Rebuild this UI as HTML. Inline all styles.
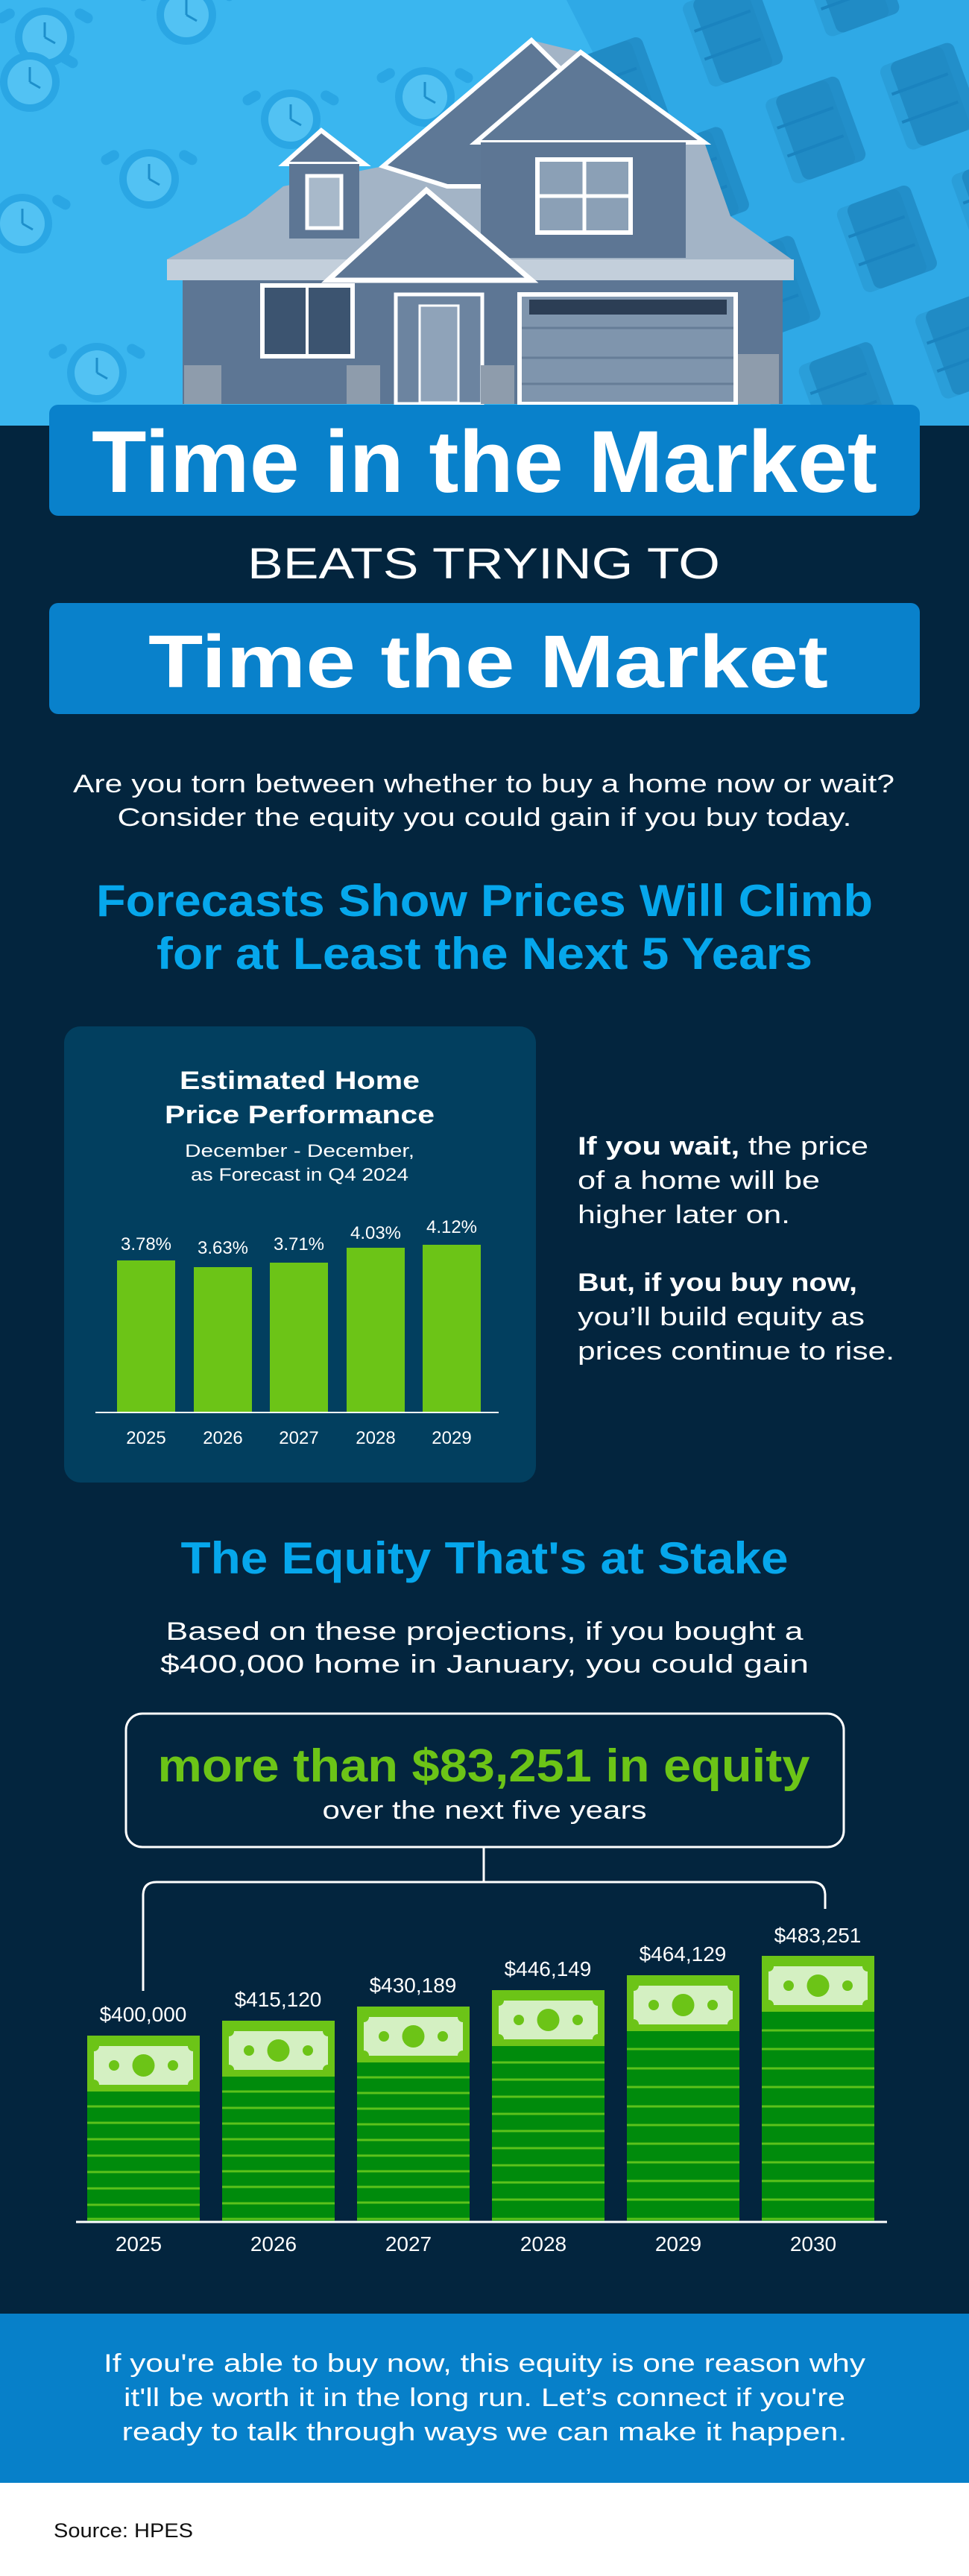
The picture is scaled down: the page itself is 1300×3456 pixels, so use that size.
<!DOCTYPE html>
<html><head><meta charset="utf-8"><style>
html,body{margin:0;padding:0;background:#fff}
svg{display:block}
text{font-family:"Liberation Sans",sans-serif}
</style></head><body>
<svg width="1300" height="3456" viewBox="0 0 1300 3456" xmlns="http://www.w3.org/2000/svg">
<defs>
<g id="clock"><circle cx="0" cy="0" r="40" fill="#2aa6e4"/><circle cx="0" cy="0" r="30" fill="#52c2f3"/><rect x="-44" y="-58" width="26" height="14" rx="7" fill="#2aa6e4" transform="rotate(-30)"/><rect x="18" y="-58" width="26" height="14" rx="7" fill="#2aa6e4" transform="rotate(30)"/><line x1="0" y1="0" x2="0" y2="-20" stroke="#1d8fcb" stroke-width="3"/><line x1="0" y1="0" x2="14" y2="8" stroke="#1d8fcb" stroke-width="3"/></g>
<g id="roll"><rect x="-45" y="-60" width="90" height="120" rx="10" fill="#2a9ed9"/><rect x="-30" y="-60" width="90" height="120" rx="10" fill="#1a7fb8" opacity="0.6"/><line x1="-40" y1="-20" x2="40" y2="-20" stroke="#1a83bf" stroke-width="4"/><line x1="-40" y1="20" x2="40" y2="20" stroke="#1a83bf" stroke-width="4"/></g>
<g id="bill"><rect x="0" y="0" width="133" height="52" fill="#d4f0c2"/><circle cx="0" cy="0" r="7" fill="#6cc417"/><circle cx="133" cy="0" r="7" fill="#6cc417"/><circle cx="0" cy="52" r="7" fill="#6cc417"/><circle cx="133" cy="52" r="7" fill="#6cc417"/><circle cx="66.5" cy="26" r="15" fill="#6cc417"/><circle cx="27" cy="26" r="7" fill="#6cc417"/><circle cx="106" cy="26" r="7" fill="#6cc417"/></g>
</defs>

<!-- hero -->
<rect x="0" y="0" width="1300" height="575" fill="#3ab6ef"/>
<polygon points="760,0 1300,0 1300,575 1050,575" fill="#2fa9e6"/>
<use href="#clock" x="60" y="50"/><use href="#clock" x="250" y="20"/><use href="#clock" x="390" y="160"/><use href="#clock" x="200" y="240"/><use href="#clock" x="30" y="300"/><use href="#clock" x="130" y="500"/><use href="#clock" x="570" y="130"/><use href="#clock" x="40" y="110"/>
<g transform="rotate(-20 1100 300)">
<use href="#roll" x="900" y="40"/><use href="#roll" x="1070" y="20"/><use href="#roll" x="1240" y="10"/><use href="#roll" x="960" y="190"/><use href="#roll" x="1130" y="180"/><use href="#roll" x="1290" y="190"/><use href="#roll" x="1000" y="360"/><use href="#roll" x="1170" y="350"/><use href="#roll" x="1330" y="360"/><use href="#roll" x="1050" y="530"/><use href="#roll" x="1220" y="520"/>
</g>
<!-- house -->
<polygon points="224,348 330,290 380,250 514,223 713,54 779,70 945,191 980,290 1065,350 1065,376 224,376" fill="#a3b4c6"/>
<polygon points="514,223 713,54 790,130 790,250 600,250" fill="#5e7896" stroke="#fff" stroke-width="6"/>
<polygon points="638,191 779,70 945,191" fill="#5e7896" stroke="#fff" stroke-width="6"/>
<rect x="645" y="191" width="275" height="155" fill="#5d7694"/>
<rect x="721" y="214" width="125" height="98" fill="#8ba0b6" stroke="#fff" stroke-width="6"/>
<line x1="784" y1="214" x2="784" y2="312" stroke="#fff" stroke-width="5"/><line x1="721" y1="263" x2="846" y2="263" stroke="#fff" stroke-width="5"/>
<polygon points="381,220 431,175 489,220" fill="#5d7694" stroke="#fff" stroke-width="6"/>
<rect x="388" y="220" width="94" height="100" fill="#5d7694"/>
<rect x="412" y="236" width="46" height="70" fill="#a8b9ca" stroke="#fff" stroke-width="5"/>
<rect x="224" y="348" width="841" height="28" fill="#c3cfdb"/>
<rect x="245" y="376" width="805" height="166" fill="#5d7694"/>
<polygon points="440,376 572,255 713,376" fill="#5d7694" stroke="#fff" stroke-width="7"/>
<rect x="352" y="383" width="121" height="95" fill="#3c5470" stroke="#fff" stroke-width="6"/>
<line x1="412" y1="383" x2="412" y2="478" stroke="#fff" stroke-width="4"/>
<rect x="531" y="395" width="116" height="147" fill="#6c84a0" stroke="#fff" stroke-width="5"/>
<rect x="563" y="410" width="52" height="130" fill="#8fa3b9" stroke="#fff" stroke-width="3"/>
<rect x="697" y="395" width="290" height="147" fill="#7f95ad" stroke="#fff" stroke-width="6"/>
<g stroke="#667d97" stroke-width="3"><line x1="700" y1="440" x2="984" y2="440"/><line x1="700" y1="480" x2="984" y2="480"/><line x1="700" y1="515" x2="984" y2="515"/></g>
<rect x="710" y="402" width="265" height="20" fill="#2c3e55"/>
<rect x="247" y="490" width="50" height="52" fill="#8e9cac"/>
<rect x="465" y="490" width="45" height="52" fill="#8e9cac"/>
<rect x="645" y="490" width="45" height="52" fill="#8e9cac"/>
<rect x="990" y="475" width="55" height="67" fill="#8e9cac"/>

<!-- dark background -->
<rect x="0" y="571" width="1300" height="2535" fill="#03253e"/>

<!-- title boxes -->
<rect x="66" y="543" width="1168" height="149" rx="12" fill="#0981cb"/>
<text x="650" y="660" text-anchor="middle" font-size="118" font-weight="bold" fill="#fff" textLength="1054" lengthAdjust="spacingAndGlyphs">Time in the Market</text>
<text x="649" y="776" text-anchor="middle" font-size="58" fill="#fff" textLength="634" lengthAdjust="spacingAndGlyphs">BEATS TRYING TO</text>
<rect x="66" y="809" width="1168" height="149" rx="12" fill="#0981cb"/>
<text x="655" y="922" text-anchor="middle" font-size="100" font-weight="bold" fill="#fff" textLength="912" lengthAdjust="spacingAndGlyphs">Time the Market</text>

<!-- intro -->
<text x="649" y="1063" text-anchor="middle" font-size="34" fill="#fff" textLength="1102" lengthAdjust="spacingAndGlyphs">Are you torn between whether to buy a home now or wait?</text>
<text x="650" y="1108" text-anchor="middle" font-size="34" fill="#fff" textLength="985" lengthAdjust="spacingAndGlyphs">Consider the equity you could gain if you buy today.</text>
<text x="650" y="1229" text-anchor="middle" font-size="60" font-weight="bold" fill="#06a7ec" textLength="1042" lengthAdjust="spacingAndGlyphs">Forecasts Show Prices Will Climb</text>
<text x="650" y="1300" text-anchor="middle" font-size="60" font-weight="bold" fill="#06a7ec" textLength="880" lengthAdjust="spacingAndGlyphs">for at Least the Next 5 Years</text>

<!-- chart card -->
<rect x="86" y="1377" width="633" height="612" rx="22" fill="#023f5f"/>
<text x="402" y="1461" text-anchor="middle" font-size="34" font-weight="bold" fill="#fff" textLength="322" lengthAdjust="spacingAndGlyphs">Estimated Home</text>
<text x="402" y="1507" text-anchor="middle" font-size="34" font-weight="bold" fill="#fff" textLength="362" lengthAdjust="spacingAndGlyphs">Price Performance</text>
<text x="402" y="1552" text-anchor="middle" font-size="24" fill="#fff" textLength="308" lengthAdjust="spacingAndGlyphs">December - December,</text>
<text x="402" y="1584" text-anchor="middle" font-size="24" fill="#fff" textLength="292" lengthAdjust="spacingAndGlyphs">as Forecast in Q4 2024</text>
<g fill="#6cc417">
<rect x="157" y="1691" width="78" height="204"/>
<rect x="260" y="1700" width="78" height="195"/>
<rect x="362" y="1694" width="78" height="201"/>
<rect x="465" y="1674" width="78" height="221"/>
<rect x="567" y="1670" width="78" height="225"/>
</g>
<line x1="128" y1="1895" x2="669" y2="1895" stroke="#fff" stroke-width="2"/>
<g font-size="24" fill="#fff" text-anchor="middle">
<text x="196" y="1677">3.78%</text><text x="299" y="1682">3.63%</text><text x="401" y="1677">3.71%</text><text x="504" y="1662">4.03%</text><text x="606" y="1654">4.12%</text>
<text x="196" y="1937">2025</text><text x="299" y="1937">2026</text><text x="401" y="1937">2027</text><text x="504" y="1937">2028</text><text x="606" y="1937">2029</text>
</g>

<!-- right text -->
<g font-size="34" fill="#fff">
<text x="775" y="1549" textLength="390" lengthAdjust="spacingAndGlyphs"><tspan font-weight="bold">If you wait,</tspan> the price</text>
<text x="775" y="1595" textLength="325" lengthAdjust="spacingAndGlyphs">of a home will be</text>
<text x="775" y="1641" textLength="285" lengthAdjust="spacingAndGlyphs">higher later on.</text>
<text x="775" y="1732" textLength="375" lengthAdjust="spacingAndGlyphs" font-weight="bold">But, if you buy now,</text>
<text x="775" y="1778" textLength="385" lengthAdjust="spacingAndGlyphs">you’ll build equity as</text>
<text x="775" y="1824" textLength="425" lengthAdjust="spacingAndGlyphs">prices continue to rise.</text>
</g>

<!-- equity section -->
<text x="650" y="2111" text-anchor="middle" font-size="60" font-weight="bold" fill="#06a7ec" textLength="815" lengthAdjust="spacingAndGlyphs">The Equity That's at Stake</text>
<text x="650" y="2200" text-anchor="middle" font-size="34" fill="#fff" textLength="855" lengthAdjust="spacingAndGlyphs">Based on these projections, if you bought a</text>
<text x="650" y="2244" text-anchor="middle" font-size="34" fill="#fff" textLength="870" lengthAdjust="spacingAndGlyphs">$400,000 home in January, you could gain</text>
<rect x="169" y="2299" width="963" height="179" rx="22" fill="none" stroke="#fff" stroke-width="3"/>
<text x="649" y="2390" text-anchor="middle" font-size="62" font-weight="bold" fill="#6cc417" textLength="875" lengthAdjust="spacingAndGlyphs">more than $83,251 in equity</text>
<text x="650" y="2440" text-anchor="middle" font-size="34" fill="#fff" textLength="435" lengthAdjust="spacingAndGlyphs">over the next five years</text>
<path d="M649 2478 V2525 M192 2671 V2543 Q192 2525 210 2525 H1089 Q1107 2525 1107 2543 V2561" fill="none" stroke="#fff" stroke-width="3"/>

<!-- money bars -->
<g transform="translate(117,0)"><rect y="2731" width="151" height="250" fill="#008b0c"/><rect y="2731" width="151" height="75" fill="#6cc417"/><use href="#bill" x="9" y="2745"/></g>
<g transform="translate(298,0)"><rect y="2711" width="151" height="270" fill="#008b0c"/><rect y="2711" width="151" height="75" fill="#6cc417"/><use href="#bill" x="9" y="2725"/></g>
<g transform="translate(479,0)"><rect y="2692" width="151" height="289" fill="#008b0c"/><rect y="2692" width="151" height="75" fill="#6cc417"/><use href="#bill" x="9" y="2706"/></g>
<g transform="translate(660,0)"><rect y="2670" width="151" height="311" fill="#008b0c"/><rect y="2670" width="151" height="75" fill="#6cc417"/><use href="#bill" x="9" y="2684"/></g>
<g transform="translate(841,0)"><rect y="2650" width="151" height="331" fill="#008b0c"/><rect y="2650" width="151" height="75" fill="#6cc417"/><use href="#bill" x="9" y="2664"/></g>
<g transform="translate(1022,0)"><rect y="2624" width="151" height="357" fill="#008b0c"/><rect y="2624" width="151" height="75" fill="#6cc417"/><use href="#bill" x="9" y="2638"/></g>
<g stroke="#5cc21b" stroke-width="3">
<path d="M117 2826H268M117 2848H268M117 2870H268M117 2892H268M117 2914H268M117 2936H268M117 2958H268M117 2977H268"/>
<path d="M298 2806H449M298 2828H449M298 2849H449M298 2870H449M298 2892H449M298 2913H449M298 2934H449M298 2956H449M298 2977H449"/>
<path d="M479 2787H630M479 2808H630M479 2829H630M479 2850H630M479 2871H630M479 2892H630M479 2913H630M479 2934H630M479 2955H630M479 2977H630"/>
<path d="M660 2767H811M660 2790H811M660 2813H811M660 2836H811M660 2859H811M660 2882H811M660 2905H811M660 2928H811M660 2951H811M660 2977H811"/>
<path d="M841 2749H992M841 2775H992M841 2800H992M841 2826H992M841 2851H992M841 2876H992M841 2901H992M841 2926H992M841 2951H992M841 2977H992"/>
<path d="M1022 2724H1173M1022 2749H1173M1022 2775H1173M1022 2800H1173M1022 2826H1173M1022 2851H1173M1022 2876H1173M1022 2901H1173M1022 2926H1173M1022 2951H1173M1022 2977H1173"/>
</g>
<line x1="102" y1="2981" x2="1190" y2="2981" stroke="#fff" stroke-width="3"/>
<g font-size="28" fill="#fff" text-anchor="middle">
<text x="192" y="2712">$400,000</text><text x="373" y="2692">$415,120</text><text x="554" y="2673">$430,189</text><text x="735" y="2651">$446,149</text><text x="916" y="2631">$464,129</text><text x="1097" y="2606">$483,251</text>
<text x="186" y="3020">2025</text><text x="367" y="3020">2026</text><text x="548" y="3020">2027</text><text x="729" y="3020">2028</text><text x="910" y="3020">2029</text><text x="1091" y="3020">2030</text>
</g>

<!-- footer -->
<rect x="0" y="3104" width="1300" height="227" fill="#0780c9"/>
<g font-size="34" fill="#fff" text-anchor="middle">
<text x="650" y="3182" textLength="1022" lengthAdjust="spacingAndGlyphs">If you're able to buy now, this equity is one reason why</text>
<text x="650" y="3228" textLength="968" lengthAdjust="spacingAndGlyphs">it'll be worth it in the long run. Let’s connect if you're</text>
<text x="650" y="3274" textLength="973" lengthAdjust="spacingAndGlyphs">ready to talk through ways we can make it happen.</text>
</g>
<text x="72" y="3404" font-size="27" fill="#111" textLength="187" lengthAdjust="spacingAndGlyphs">Source: HPES</text>
</svg>
</body></html>
